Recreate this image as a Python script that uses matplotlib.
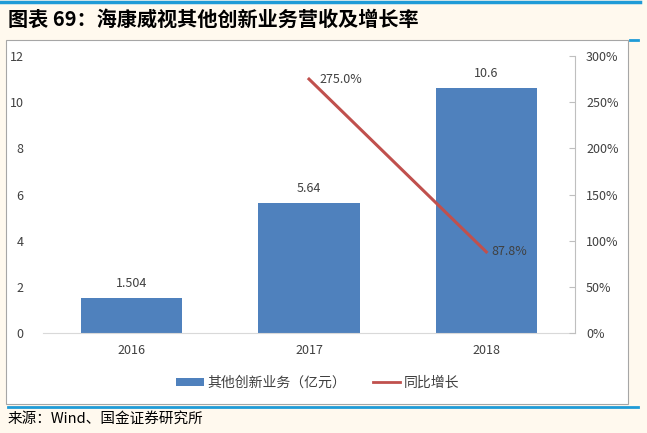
import numpy as np
import matplotlib.pyplot as plt
from matplotlib.patches import Rectangle
from matplotlib.lines import Line2D

plt.rcParams['font.family'] = ['Noto Sans CJK SC', 'DejaVu Sans']

years = ['2016', '2017', '2018']
revenue = [1.504, 5.64, 10.6]
revenue_labels = ['1.504', '5.64', '10.6']
growth_years = ['2017', '2018']
growth = [275.0, 87.8]

bar_color = '#4F81BD'
line_color = '#C0504D'
bg = '#FFF9EE'
blue = '#1F9BD7'

fig = plt.figure(figsize=(6.47, 4.33), dpi=100)
fig.patch.set_facecolor(bg)

# white chart box
box = Rectangle((6/647, 1-404/433), 622/647, 364/433, transform=fig.transFigure,
                facecolor='white', edgecolor='#A6A6A6', linewidth=0.8, zorder=-1)
fig.add_artist(box)
# blue rules
fig.add_artist(Line2D([0, 640/647], [1-2/433, 1-2/433], transform=fig.transFigure, color=blue, lw=2.5))
fig.add_artist(Line2D([630/647, 638/647], [1-40/433, 1-40/433], transform=fig.transFigure, color=blue, lw=2))
fig.add_artist(Line2D([8/647, 638/647], [1-407/433, 1-407/433], transform=fig.transFigure, color=blue, lw=2))

fig.text(8/647, 1-19/433, '图表 69：海康威视其他创新业务营收及增长率', fontsize=14.5, fontweight='bold',
         style='italic', va='center', ha='left', color='black')
fig.text(8/647, 1-419/433, '来源：Wind、国金证券研究所', fontsize=10.5, va='center', ha='left', color='black')

ax = fig.add_axes([43/647, 1-333/433, (575-43)/647, (333-56)/433])
ax.set_facecolor('none')
x = np.arange(len(years))
bars = ax.bar(x, revenue, width=0.57, color=bar_color, zorder=2)
for xi, v, t in zip(x, revenue, revenue_labels):
    ax.text(xi, v + 0.35, t, ha='center', va='bottom', fontsize=9, color='#404040')
ax.set_xlim(-0.5, 2.5)
ax.set_ylim(0, 12)
ax.set_yticks(np.arange(0, 13, 2))
ax.set_xticks(x)
ax.set_xticklabels(years)
ax.tick_params(axis='both', length=0, labelsize=9, colors='#404040', pad=8)
ax.tick_params(axis='y', pad=14)
for s in ['top', 'right', 'left']:
    ax.spines[s].set_visible(False)
ax.spines['bottom'].set_color('#D9D9D9')

ax2 = ax.twinx()
gx = [years.index(y) for y in growth_years]
line, = ax2.plot(gx, growth, color=line_color, lw=2.2, zorder=3)
ax2.text(gx[0] + 0.06, growth[0], '275.0%', ha='left', va='center', fontsize=9, color='#404040')
ax2.text(gx[1] + 0.03, growth[1], '87.8%', ha='left', va='center', fontsize=9, color='#404040')
ax2.set_ylim(0, 300)
ax2.set_yticks(np.arange(0, 301, 50))
ax2.set_yticklabels([f'{v}%' for v in range(0, 301, 50)])
ax2.tick_params(axis='y', direction='in', length=4, labelsize=9, labelcolor='#404040',
                color='#BFBFBF', pad=8)
for s in ['top', 'left', 'bottom']:
    ax2.spines[s].set_visible(False)
ax2.spines['right'].set_color('#BFBFBF')

leg_line = Line2D([], [], color=line_color, lw=2)
fig.legend([bars, leg_line], ['其他创新业务（亿元）', '同比增长'], loc='center', bbox_to_anchor=(318/647, 1-383/433),
           ncol=2, frameon=False, fontsize=10, handlelength=1.95, handleheight=0.55, handletextpad=0.3,
           columnspacing=1.9, labelcolor='#404040')

fig.savefig('out.png', dpi=100, facecolor=bg)
